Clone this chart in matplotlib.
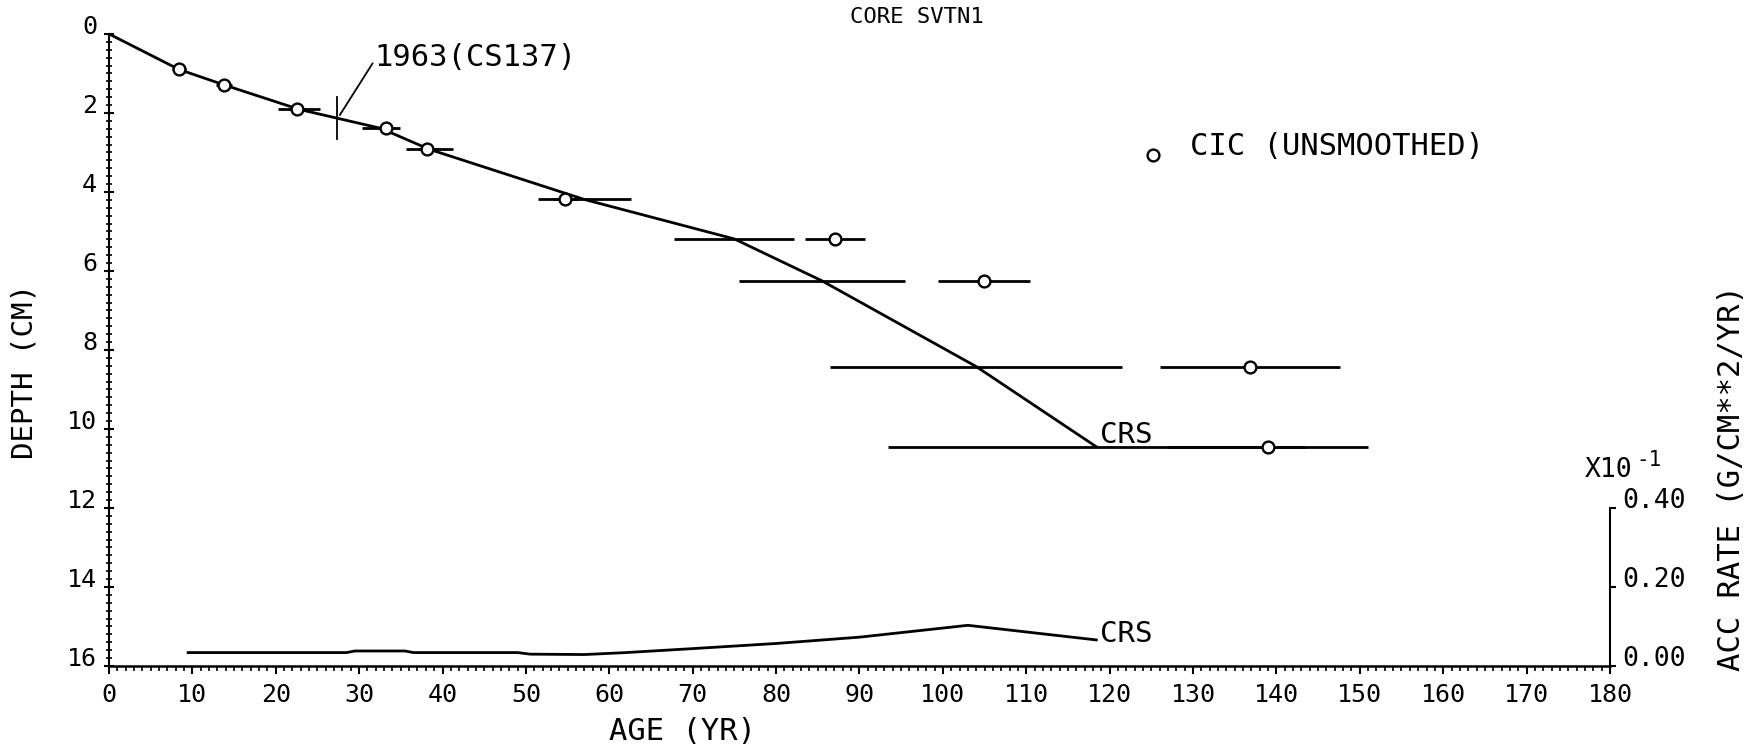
import numpy as np
import matplotlib
matplotlib.use("Agg")
from matplotlib import pyplot as plt
from matplotlib.ticker import MultipleLocator

plt.rcParams['font.family'] = 'DejaVu Sans Mono'

# CRS age-depth model, with 1-sigma age errors at each sample depth
crs_depth = [0.0, 0.90, 1.29, 1.91, 2.39, 2.92, 4.19, 5.19, 6.25, 8.42, 10.45]
crs_age = [0.0, 8.4, 13.8, 22.8, 32.6, 38.4, 57.0, 75.0, 85.5, 104.0, 118.4]
crs_err = [0.0, 0.8, 1.0, 2.5, 2.3, 2.8, 5.6, 7.2, 10.0, 17.5, 25.0]

# CIC ages (unsmoothed)
cic_depth = [0.90, 1.29, 1.91, 2.39, 2.92, 4.19, 5.19, 6.25, 8.42, 10.45]
cic_age = [8.4, 13.8, 22.5, 33.2, 38.1, 54.7, 87.1, 104.9, 136.8, 139.0]
cic_err = [0.6, 0.8, 1.0, 1.0, 1.0, 1.5, 3.6, 5.5, 10.8, 12.0]

# CRS accumulation rate, units of 10^-1 g/cm^2/yr
acc_age = [9.5, 28.5, 29.5, 35.5, 36.5, 49.0, 50.5, 57.0, 62.0, 70.0, 80.0, 90.0, 103.0, 118.4]
acc_rate = [0.034, 0.034, 0.038, 0.038, 0.034, 0.034, 0.030, 0.029, 0.034, 0.044, 0.057, 0.073, 0.103, 0.066]

# Cs-137 peak (1963)
cs_age = 27.4
cs_depth = 2.1

fig = plt.figure(figsize=(17.63, 7.5), dpi=100)
ax = fig.add_axes([0.0618, 0.112, 0.8514, 0.8428])

lw = 2.0
ax.plot(crs_age, crs_depth, color='k', lw=lw)
ax.errorbar(crs_age[1:], crs_depth[1:], xerr=crs_err[1:], fmt='none', ecolor='k', elinewidth=lw, capsize=0)
ax.errorbar(cic_age, cic_depth, xerr=cic_err, fmt='o', mfc='white', mec='k', mew=1.7, ms=8.5,
            ecolor='k', elinewidth=lw, capsize=0)

# 1963 marker and its leader
ax.plot([cs_age, cs_age], [cs_depth - 0.5, cs_depth + 0.55], color='k', lw=1.3)
ax.plot([cs_age + 0.3, cs_age + 4.2], [cs_depth - 0.05, 0.75], color='k', lw=1.3)
ax.text(cs_age + 4.4, 0.6, '1963(CS137)', fontsize=22, va='center', ha='left')

ax.text(crs_age[-1] + 0.4, crs_depth[-1] - 0.3, 'CRS', fontsize=21, va='center', ha='left')

# legend entry drawn by hand
ax.plot([125.2], [3.06], 'o', mfc='white', mec='k', mew=1.7, ms=8.5)
ax.text(129.6, 2.85, 'CIC (UNSMOOTHED)', fontsize=22, va='center', ha='left')

ax.set_xlim(0, 180)
ax.set_ylim(16, 0)
ax.xaxis.set_major_locator(MultipleLocator(10))
ax.xaxis.set_minor_locator(MultipleLocator(1))
ax.yaxis.set_major_locator(MultipleLocator(2))
ax.yaxis.set_minor_locator(MultipleLocator(0.2))
ax.tick_params(axis='x', which='major', direction='out', length=6, width=1.5, labelsize=18, pad=6)
ax.tick_params(axis='x', which='minor', direction='out', length=3.5, width=1.2)
ax.tick_params(axis='y', which='major', direction='inout', length=7, width=1.5, labelsize=18, pad=5)
ax.tick_params(axis='y', which='minor', direction='inout', length=4, width=1.2)
for lbl in ax.get_yticklabels():
    lbl.set_verticalalignment('baseline')
ax.spines['top'].set_visible(False)
ax.spines['right'].set_visible(False)
ax.spines['left'].set_linewidth(1.5)
ax.spines['bottom'].set_linewidth(1.8)

# accumulation rate on a short right-hand axis in the lower part
ax2 = ax.twinx()
ax2.plot(acc_age, acc_rate, color='k', lw=lw)
ax2.text(acc_age[-1] + 0.4, acc_rate[-1] + 0.016, 'CRS', fontsize=21, va='center', ha='left')
ax2.set_ylim(0, 1.6)
ax2.set_yticks([0.0, 0.2, 0.4])
ax2.set_yticklabels(['0.00', '0.20', '0.40'])
ax2.tick_params(axis='y', direction='out', length=4, width=1.5, labelsize=19, pad=5)
for lbl in ax2.get_yticklabels():
    lbl.set_verticalalignment('baseline')
ax2.spines['right'].set_bounds(0, 0.4)
ax2.spines['right'].set_linewidth(1.5)
for s in ['top', 'left', 'bottom']:
    ax2.spines[s].set_visible(False)

fig.text(0.899, 0.364, 'X10', fontsize=19, ha='left', va='baseline')
fig.text(0.928, 0.378, '-1', fontsize=15, ha='left', va='baseline')

fig.text(0.520, 0.977, 'CORE SVTN1', fontsize=16, ha='center', va='center')
fig.text(0.387, 0.025, 'AGE (YR)', fontsize=22, ha='center', va='center')
fig.text(0.014, 0.505, 'DEPTH (CM)', fontsize=21, ha='center', va='center', rotation=90)
fig.text(0.982, 0.362, 'ACC RATE (G/CM**2/YR)', fontsize=22, ha='center', va='center', rotation=90)

fig.savefig('out.png', dpi=100)
